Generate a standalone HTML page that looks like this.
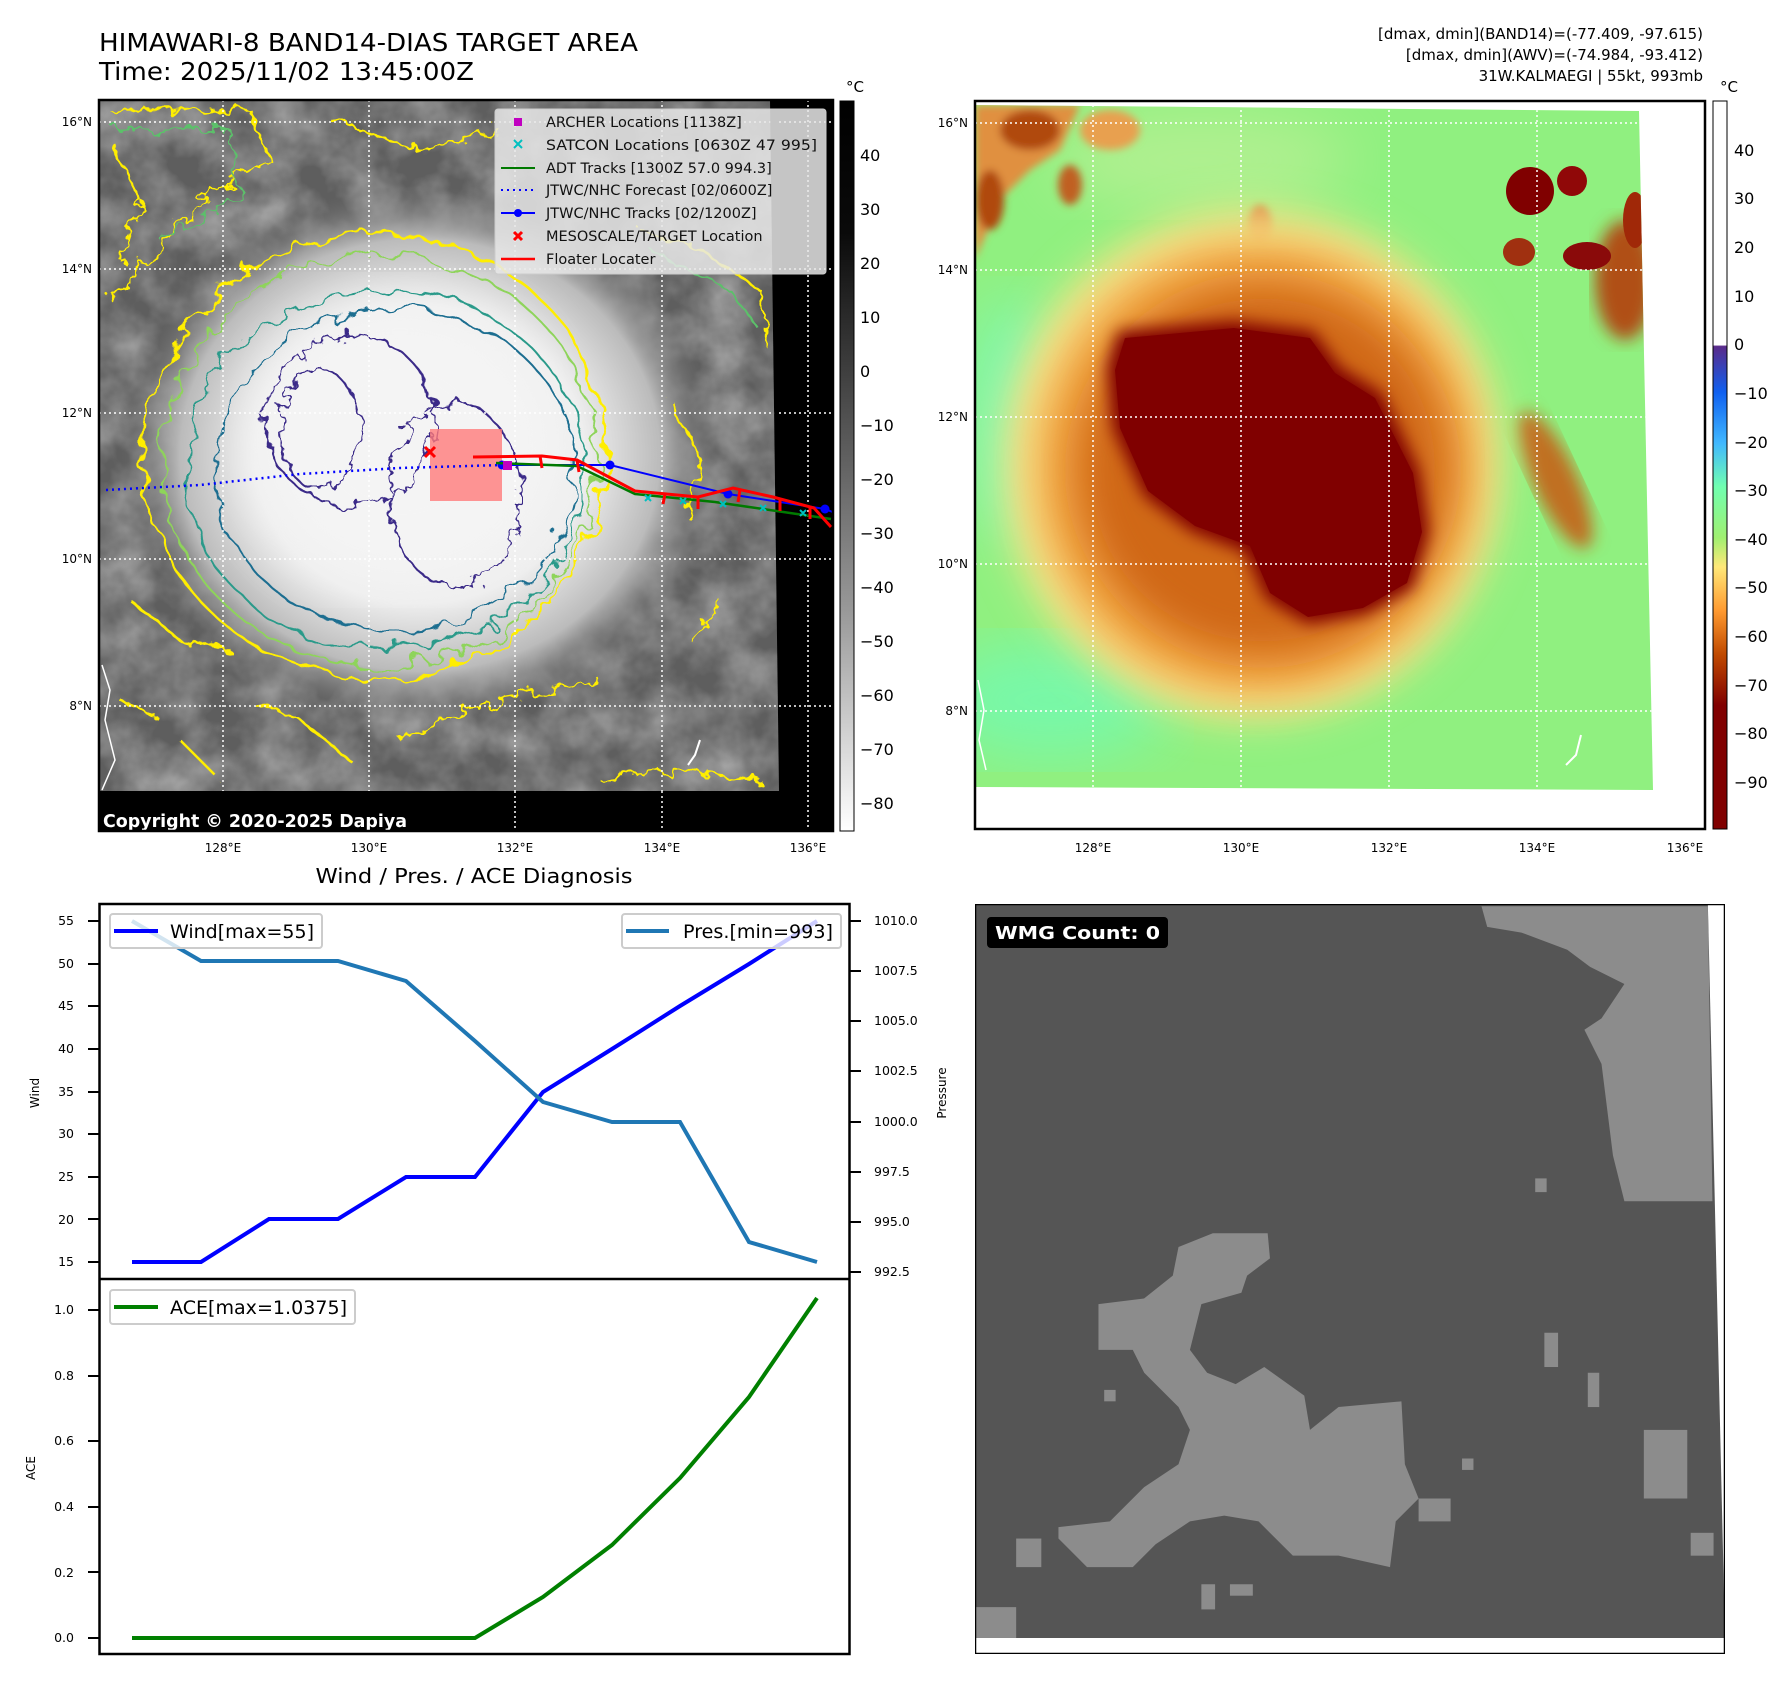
<!DOCTYPE html>
<html><head><meta charset="utf-8"><style>
html,body{margin:0;padding:0;background:#fff;}
svg{display:block;}
text{font-family:"DejaVu Sans","Liberation Sans",sans-serif;}
</style></head><body>
<svg width="1792" height="1690" viewBox="0 0 1792 1690" xmlns="http://www.w3.org/2000/svg">
<defs>
<clipPath id="cL"><rect x="99" y="100" width="734" height="731"/></clipPath>
<clipPath id="cLimg"><polygon points="99,100 770,100 779,791 99,791"/></clipPath>
<clipPath id="cR"><polygon points="975,105 1639,111 1653,790 975,787"/></clipPath>
<filter id="wob" x="-10%" y="-10%" width="120%" height="120%"><feTurbulence type="fractalNoise" baseFrequency="0.035" numOctaves="3" seed="3"/><feDisplacementMap in="SourceGraphic" scale="28"/></filter>
<filter id="wob2" x="-10%" y="-10%" width="120%" height="120%"><feTurbulence type="fractalNoise" baseFrequency="0.06" numOctaves="3" seed="7"/><feDisplacementMap in="SourceGraphic" scale="22"/></filter>
<filter id="tex" x="0" y="0" width="100%" height="100%"><feTurbulence type="fractalNoise" baseFrequency="0.02" numOctaves="4" seed="5"/><feColorMatrix type="matrix" values="0 0 0 0 0.5  0 0 0 0 0.5  0 0 0 0 0.5  1.2 0 0 0 -0.35"/></filter>
<filter id="bl4"><feGaussianBlur stdDeviation="4"/></filter>
<filter id="bl8"><feGaussianBlur stdDeviation="8"/></filter>
<filter id="bl20"><feGaussianBlur stdDeviation="20"/></filter>
<filter id="bl30"><feGaussianBlur stdDeviation="30"/></filter>
<radialGradient id="blob" cx="0.5" cy="0.5" r="0.5">
<stop offset="0" stop-color="#fafafa"/><stop offset="0.55" stop-color="#eeeeee"/><stop offset="0.8" stop-color="#bbbbbb"/><stop offset="1" stop-color="#6a6a6a" stop-opacity="0"/></radialGradient>
<linearGradient id="cbL" x1="0" y1="0" x2="0" y2="1">
<stop offset="0" stop-color="#000"/><stop offset="0.18" stop-color="#0a0a0a"/><stop offset="0.45" stop-color="#555"/><stop offset="0.7" stop-color="#999"/><stop offset="1" stop-color="#fff"/></linearGradient>
<linearGradient id="cbR" x1="0" y1="0" x2="0" y2="1">
<stop offset="0" stop-color="#fff"/><stop offset="0.335" stop-color="#fff"/><stop offset="0.337" stop-color="#5a2a8a"/><stop offset="0.40" stop-color="#1060f0"/><stop offset="0.47" stop-color="#40b8ff"/><stop offset="0.53" stop-color="#70ffb0"/><stop offset="0.60" stop-color="#a0f070"/><stop offset="0.64" stop-color="#ffe878"/><stop offset="0.70" stop-color="#ff9a30"/><stop offset="0.76" stop-color="#c04a00"/><stop offset="0.83" stop-color="#800000"/><stop offset="1" stop-color="#800000"/></linearGradient>
</defs>

<!-- Titles -->
<text x="99" y="51" font-size="25" textLength="539" lengthAdjust="spacingAndGlyphs">HIMAWARI-8 BAND14-DIAS TARGET AREA</text>
<text x="99" y="80" font-size="25" textLength="375" lengthAdjust="spacingAndGlyphs">Time: 2025/11/02 13:45:00Z</text>
<g font-size="15" text-anchor="end">
<text x="1703" y="39">[dmax, dmin](BAND14)=(-77.409, -97.615)</text>
<text x="1703" y="60">[dmax, dmin](AWV)=(-74.984, -93.412)</text>
<text x="1703" y="81">31W.KALMAEGI | 55kt, 993mb</text>
</g>

<!-- LEFT MAP -->
<rect x="99" y="100" width="734" height="731" fill="#000"/>
<g clip-path="url(#cLimg)">
<rect x="99" y="100" width="700" height="700" fill="#5e5e5e"/>
<rect x="99" y="100" width="700" height="700" filter="url(#tex)"/>
<ellipse cx="420" cy="455" rx="300" ry="270" fill="url(#blob)"/>
<ellipse cx="400" cy="440" rx="150" ry="140" fill="#f4f4f4" filter="url(#bl30)"/>
<g fill="none" filter="url(#wob)">
<ellipse cx="375" cy="455" rx="232" ry="222" stroke="#ffee00" stroke-width="2.5"/>
<ellipse cx="380" cy="460" rx="218" ry="205" stroke="#8ed45a" stroke-width="2"/>
<ellipse cx="385" cy="470" rx="200" ry="180" stroke="#2a9a8a" stroke-width="2"/>
<ellipse cx="395" cy="470" rx="180" ry="162" stroke="#1e6e90" stroke-width="2"/>
</g>
<g fill="none" filter="url(#wob2)" stroke="#3a2a88" stroke-width="2">
<ellipse cx="350" cy="420" rx="85" ry="85"/>
<ellipse cx="455" cy="495" rx="65" ry="92"/>
<ellipse cx="320" cy="430" rx="40" ry="60"/>
</g>
<g fill="none" stroke="#ffee00" stroke-width="2.5" filter="url(#wob2)">
<path d="M110,110 L250,110 L270,160 L200,200 L150,260 L110,300"/>
<path d="M330,120 L420,150 L500,130"/>
<path d="M640,230 L700,250 L760,290 L770,350"/>
<path d="M670,400 L700,460 L690,520"/>
<path d="M400,740 L500,700 L560,690 L600,680"/>
<path d="M600,780 L680,770 L760,780"/>
<path d="M130,600 L180,640 L230,650"/>
<path d="M250,700 L300,720 L350,760"/>
<path d="M120,700 L160,720"/>
<path d="M110,140 L140,200 L120,260"/>
<path d="M180,740 L220,780"/>
<path d="M690,640 L720,600"/>
</g>
<g fill="none" stroke="#5cc06a" stroke-width="2" filter="url(#wob2)">
<path d="M115,130 L230,130 L240,200 L160,240"/>
<path d="M650,250 L730,290 L760,330"/>
</g>
<g stroke="#fff" stroke-width="1.5" stroke-dasharray="2,3">
<line x1="99" y1="122" x2="833" y2="122"/><line x1="99" y1="269" x2="833" y2="269"/><line x1="99" y1="413" x2="833" y2="413"/><line x1="99" y1="559" x2="833" y2="559"/><line x1="99" y1="706" x2="833" y2="706"/>
<line x1="223" y1="100" x2="223" y2="831"/><line x1="369" y1="100" x2="369" y2="831"/><line x1="515" y1="100" x2="515" y2="831"/><line x1="662" y1="100" x2="662" y2="831"/>
</g>
<path d="M102,665 L110,690 L105,720 L115,760 L102,790" stroke="#fff" stroke-width="1.5" fill="none"/>
<path d="M700,740 L695,755 L688,765" stroke="#fff" stroke-width="2" fill="none"/>
</g>
<g clip-path="url(#cL)">
<g stroke="#fff" stroke-width="1.5" stroke-dasharray="2,3"><line x1="808" y1="100" x2="808" y2="831"/><line x1="779" y1="122" x2="833" y2="122"/><line x1="779" y1="269" x2="833" y2="269"/><line x1="779" y1="413" x2="833" y2="413"/><line x1="779" y1="559" x2="833" y2="559"/><line x1="779" y1="706" x2="833" y2="706"/><line x1="515" y1="791" x2="515" y2="831"/><line x1="662" y1="791" x2="662" y2="831"/></g>
<rect x="430" y="429" width="72" height="72" fill="#ff7a7a" opacity="0.8"/>
<polyline points="106,490 200,485 300,474 400,468 502,465" fill="none" stroke="#0000ff" stroke-width="2.5" stroke-dasharray="2,4"/>
<polyline points="502,465 610,465 728,494 825,509 840,515" fill="none" stroke="#0000ff" stroke-width="2"/>
<g fill="#0000ff"><circle cx="502" cy="465" r="4.5"/><circle cx="610" cy="465" r="4.5"/><circle cx="728" cy="494" r="4.5"/><circle cx="825" cy="509" r="4.5"/></g>
<polyline points="496,463 577,466 635,494 715,502 831,519" fill="none" stroke="#007a00" stroke-width="2.5"/>
<g stroke="#00c0c0" stroke-width="2"><path d="M645,495l6,6m0,-6l-6,6M680,498l6,6m0,-6l-6,6M720,501l6,6m0,-6l-6,6M760,505l6,6m0,-6l-6,6M800,510l6,6m0,-6l-6,6"/></g>
<polyline points="473,457 542,456 577,460 635,491 698,497 733,488 773,497 814,508 831,527" fill="none" stroke="#ff0000" stroke-width="3"/>
<g stroke="#ff0000" stroke-width="3"><path d="M540,456l2,12M577,460l2,12M665,494l-2,10M698,497l0,12M740,490l-2,12M780,499l0,12M810,507l0,12"/></g>
<path d="M425,447l10,10m0,-10l-10,10" stroke="#ff0000" stroke-width="3"/>
<rect x="503" y="461" width="9" height="9" fill="#c000c0"/>
<rect x="495" y="109" width="331" height="165" rx="3" fill="#e8e8e8" fill-opacity="0.85" stroke="#ccc"/>
<rect x="514" y="118" width="8" height="8" fill="#c000c0"/>
<path d="M514,140l8,8m0,-8l-8,8" stroke="#00c0c0" stroke-width="2"/>
<line x1="501" y1="168" x2="535" y2="168" stroke="#007a00" stroke-width="2"/>
<line x1="501" y1="190" x2="535" y2="190" stroke="#0000ff" stroke-width="2" stroke-dasharray="2,4"/>
<line x1="501" y1="213" x2="535" y2="213" stroke="#0000ff" stroke-width="2"/><circle cx="518" cy="213" r="4" fill="#0000ff"/>
<path d="M514,232l8,8m0,-8l-8,8" stroke="#ff0000" stroke-width="3"/>
<line x1="501" y1="259" x2="535" y2="259" stroke="#ff0000" stroke-width="2.5"/>
<g font-size="14.5" fill="#111">
<text x="546" y="127">ARCHER Locations [1138Z]</text>
<text x="546" y="150" textLength="271" lengthAdjust="spacingAndGlyphs">SATCON Locations [0630Z 47 995]</text>
<text x="546" y="173">ADT Tracks [1300Z 57.0 994.3]</text>
<text x="546" y="195">JTWC/NHC Forecast [02/0600Z]</text>
<text x="546" y="218">JTWC/NHC Tracks [02/1200Z]</text>
<text x="546" y="241">MESOSCALE/TARGET Location</text>
<text x="546" y="264">Floater Locater</text>
</g>
<text x="103" y="827" font-size="17.5" font-weight="bold" fill="#fff" textLength="304" lengthAdjust="spacingAndGlyphs">Copyright © 2020-2025 Dapiya</text>
</g>
<rect x="99" y="100" width="734" height="731" fill="none" stroke="#000" stroke-width="2.5"/>
<g font-size="12" text-anchor="end">
<text x="92" y="126">16°N</text><text x="92" y="273">14°N</text><text x="92" y="417">12°N</text><text x="92" y="563">10°N</text><text x="92" y="710">8°N</text>
</g>
<g font-size="12" text-anchor="middle">
<text x="223" y="852">128°E</text><text x="369" y="852">130°E</text><text x="515" y="852">132°E</text><text x="662" y="852">134°E</text><text x="808" y="852">136°E</text>
</g>
<rect x="840" y="101" width="14" height="730" fill="url(#cbL)" stroke="#000" stroke-width="1"/>
<text x="846" y="92" font-size="15">°C</text>
<g font-size="16">
<text x="860" y="161">40</text><text x="860" y="215">30</text><text x="860" y="269">20</text><text x="860" y="323">10</text><text x="860" y="377">0</text><text x="860" y="431">−10</text><text x="860" y="485">−20</text><text x="860" y="539">−30</text><text x="860" y="593">−40</text><text x="860" y="647">−50</text><text x="860" y="701">−60</text><text x="860" y="755">−70</text><text x="860" y="809">−80</text>
</g>

<!-- RIGHT MAP -->
<rect x="975" y="101" width="730" height="728" fill="#fff"/>
<g clip-path="url(#cR)">
<rect x="975" y="100" width="700" height="710" fill="#90f080"/>
<ellipse cx="1050" cy="700" rx="120" ry="60" fill="#78f8a8" filter="url(#bl30)"/>
<ellipse cx="1015" cy="420" rx="50" ry="120" fill="#80f8b0" filter="url(#bl30)"/>
<ellipse cx="1200" cy="160" rx="150" ry="50" fill="#b0f090" filter="url(#bl30)"/>
<g filter="url(#bl4)">
<path d="M975,105 L1080,105 L1060,150 L1030,170 L1000,200 L975,260 Z" fill="#e09040"/>
<ellipse cx="1030" cy="130" rx="30" ry="20" fill="#b04a10"/>
<ellipse cx="990" cy="200" rx="14" ry="30" fill="#b04a10"/>
<ellipse cx="1110" cy="130" rx="30" ry="20" fill="#e8a050"/>
<ellipse cx="1070" cy="185" rx="12" ry="20" fill="#c06020"/>
<ellipse cx="1260" cy="225" rx="12" ry="20" fill="#d07030"/>
</g>
<ellipse cx="1555" cy="480" rx="22" ry="75" fill="#c07020" filter="url(#bl8)" transform="rotate(-25 1555 480)"/>
<ellipse cx="1625" cy="280" rx="30" ry="60" fill="#b05018" filter="url(#bl8)"/>
<ellipse cx="1252" cy="465" rx="250" ry="255" fill="#f8e48a" filter="url(#bl20)"/>
<ellipse cx="1257" cy="468" rx="220" ry="225" fill="#f0a040" filter="url(#bl20)"/>
<ellipse cx="1263" cy="470" rx="185" ry="185" fill="#d06818" filter="url(#bl20)"/>
<g transform="translate(-5,-2)">
<polygon points="1123,333 1239,323 1318,333 1345,369 1387,395 1424,472 1434,534 1418,590 1371,616 1313,626 1271,601 1250,554 1197,534 1149,498 1118,431 1112,369" fill="#800000" filter="url(#bl8)"/>
<polygon points="1130,340 1239,330 1315,340 1340,375 1380,400 1418,475 1427,534 1412,585 1368,610 1313,619 1275,595 1255,548 1200,528 1153,493 1125,430 1120,372" fill="#800000"/>
</g>
<circle cx="1530" cy="191" r="24" fill="#800000"/><circle cx="1572" cy="181" r="15" fill="#900808"/>
<ellipse cx="1587" cy="256" rx="24" ry="14" fill="#8a0a0a"/><ellipse cx="1519" cy="252" rx="16" ry="14" fill="#a03010"/>
<ellipse cx="1635" cy="220" rx="12" ry="28" fill="#a02808"/>
<g stroke="#fff" stroke-width="1.5" stroke-dasharray="2,3">
<line x1="975" y1="123" x2="1705" y2="123"/><line x1="975" y1="270" x2="1705" y2="270"/><line x1="975" y1="417" x2="1705" y2="417"/><line x1="975" y1="564" x2="1705" y2="564"/><line x1="975" y1="711" x2="1705" y2="711"/>
<line x1="1093" y1="100" x2="1093" y2="835"/><line x1="1241" y1="100" x2="1241" y2="835"/><line x1="1389" y1="100" x2="1389" y2="835"/><line x1="1537" y1="100" x2="1537" y2="835"/>
</g>
<path d="M978,680 L984,710 L979,740 L986,770" stroke="#fff" stroke-width="1.5" fill="none"/>
<path d="M1581,735 L1576,755 L1566,765" stroke="#fff" stroke-width="2" fill="none"/>
</g>
<rect x="975" y="101" width="730" height="728" fill="none" stroke="#000" stroke-width="2.5"/>
<g font-size="12" text-anchor="end">
<text x="968" y="127">16°N</text><text x="968" y="274">14°N</text><text x="968" y="421">12°N</text><text x="968" y="568">10°N</text><text x="968" y="715">8°N</text>
</g>
<g font-size="12" text-anchor="middle">
<text x="1093" y="852">128°E</text><text x="1241" y="852">130°E</text><text x="1389" y="852">132°E</text><text x="1537" y="852">134°E</text><text x="1685" y="852">136°E</text>
</g>
<rect x="1713" y="101" width="14" height="728" fill="url(#cbR)" stroke="#000" stroke-width="1"/>
<text x="1720" y="92" font-size="15">°C</text>
<g font-size="16">
<text x="1734" y="156">40</text><text x="1734" y="204">30</text><text x="1734" y="253">20</text><text x="1734" y="302">10</text><text x="1734" y="350">0</text><text x="1734" y="399">−10</text><text x="1734" y="448">−20</text><text x="1734" y="496">−30</text><text x="1734" y="545">−40</text><text x="1734" y="593">−50</text><text x="1734" y="642">−60</text><text x="1734" y="691">−70</text><text x="1734" y="739">−80</text><text x="1734" y="788">−90</text>
</g>

<!-- BOTTOM LEFT -->
<text x="474" y="883" font-size="20" text-anchor="middle" font-family="Liberation Sans, sans-serif" textLength="317" lengthAdjust="spacingAndGlyphs">Wind / Pres. / ACE Diagnosis</text>
<rect x="99.5" y="904" width="750" height="750" fill="#fff" stroke="#000" stroke-width="2.5"/>
<line x1="99.5" y1="1279" x2="849.5" y2="1279" stroke="#000" stroke-width="2.5"/>
<g font-size="12.5" text-anchor="end" font-family="Liberation Sans, sans-serif">
<text x="74" y="925">55</text><text x="74" y="968">50</text><text x="74" y="1010">45</text><text x="74" y="1053">40</text><text x="74" y="1096">35</text><text x="74" y="1138">30</text><text x="74" y="1181">25</text><text x="74" y="1224">20</text><text x="74" y="1266">15</text>
<text x="74" y="1314">1.0</text><text x="74" y="1380">0.8</text><text x="74" y="1445">0.6</text><text x="74" y="1511">0.4</text><text x="74" y="1577">0.2</text><text x="74" y="1642">0.0</text>
</g>
<g stroke="#000" stroke-width="2">
<path d="M88,921h11M88,964h11M88,1006h11M88,1049h11M88,1092h11M88,1134h11M88,1177h11M88,1219h11M88,1262h11"/>
<path d="M88,1310h11M88,1376h11M88,1441h11M88,1507h11M88,1572h11M88,1638h11"/>
<path d="M850,921h11M850,971h11M850,1021h11M850,1071h11M850,1122h11M850,1172h11M850,1222h11M850,1272h11"/>
</g>
<g font-size="12.5" font-family="Liberation Sans, sans-serif">
<text x="874" y="925">1010.0</text><text x="874" y="975">1007.5</text><text x="874" y="1025">1005.0</text><text x="874" y="1075">1002.5</text><text x="874" y="1126">1000.0</text><text x="874" y="1176">997.5</text><text x="874" y="1226">995.0</text><text x="874" y="1276">992.5</text>
</g>
<text transform="translate(39,1093) rotate(-90)" font-size="12" text-anchor="middle" font-family="Liberation Sans, sans-serif">Wind</text>
<text transform="translate(35,1468) rotate(-90)" font-size="12" text-anchor="middle" font-family="Liberation Sans, sans-serif">ACE</text>
<text transform="translate(946,1093) rotate(-90)" font-size="12" text-anchor="middle" font-family="Liberation Sans, sans-serif">Pressure</text>
<polyline points="132,1262 201,1262 269,1219 338,1219 406,1177 475,1177 543,1092 612,1049 680,1006 749,964 817,921" fill="none" stroke="#0000ff" stroke-width="4"/>
<polyline points="132,921 201,961 269,961 338,961 406,981 475,1041 543,1102 612,1122 680,1122 749,1242 817,1262" fill="none" stroke="#1f77b4" stroke-width="4"/>
<polyline points="132,1638 201,1638 269,1638 338,1638 406,1638 475,1638 543,1597 612,1545 680,1478 749,1397 817,1298" fill="none" stroke="#008000" stroke-width="4"/>
<rect x="110" y="914" width="212" height="34" rx="3" fill="#fff" fill-opacity="0.8" stroke="#ccc" stroke-width="2"/>
<line x1="114" y1="931" x2="158" y2="931" stroke="#0000ff" stroke-width="4"/>
<text x="170" y="938" font-size="19" font-family="Liberation Sans, sans-serif" textLength="144" lengthAdjust="spacingAndGlyphs">Wind[max=55]</text>
<rect x="622" y="914" width="219" height="34" rx="3" fill="#fff" fill-opacity="0.8" stroke="#ccc" stroke-width="2"/>
<line x1="626" y1="931" x2="669" y2="931" stroke="#1f77b4" stroke-width="4"/>
<text x="683" y="938" font-size="19" font-family="Liberation Sans, sans-serif" textLength="150" lengthAdjust="spacingAndGlyphs">Pres.[min=993]</text>
<rect x="110" y="1290" width="245" height="34" rx="3" fill="#fff" fill-opacity="0.8" stroke="#ccc" stroke-width="2"/>
<line x1="114" y1="1307" x2="158" y2="1307" stroke="#008000" stroke-width="4"/>
<text x="170" y="1314" font-size="19" font-family="Liberation Sans, sans-serif" textLength="177" lengthAdjust="spacingAndGlyphs">ACE[max=1.0375]</text>

<!-- BOTTOM RIGHT -->
<svg x="975" y="904" width="750" height="750" viewBox="852 790 656 656" preserveAspectRatio="none">
<rect x="852" y="790" width="656" height="656" fill="#fff"/>
<polygon points="852,790 1493,790 1508,1432 852,1432" fill="#555"/>
<g fill="#8c8c8c">
<polygon points="1295,792 1493,792 1497,1050 1420,1050 1410,1010 1400,930 1385,900 1400,890 1420,860 1390,845 1370,830 1330,815 1300,810"/>
<polygon points="1060,1078 1108,1078 1110,1100 1090,1115 1085,1130 1050,1140 1040,1180 1055,1200 1080,1210 1105,1195 1140,1220 1145,1250 1170,1230 1225,1225 1228,1280 1240,1310 1220,1330 1215,1370 1170,1360 1130,1360 1100,1330 1070,1325 1040,1330 1010,1350 990,1370 950,1370 925,1345 925,1335 970,1330 1000,1300 1030,1280 1040,1250 1030,1230 1000,1200 990,1180 960,1180 960,1140 1000,1135 1025,1115 1030,1090"/>
<rect x="1437" y="1250" width="38" height="60"/>
<rect x="852" y="1405" width="36" height="27"/>
<rect x="1342" y="1030" width="10" height="12"/><rect x="1350" y="1165" width="12" height="30"/>
<rect x="1240" y="1310" width="28" height="20"/><rect x="888" y="1345" width="22" height="25"/>
<rect x="1478" y="1340" width="20" height="20"/><rect x="1050" y="1385" width="12" height="22"/>
<rect x="1075" y="1385" width="20" height="10"/><rect x="1278" y="1275" width="10" height="10"/>
<rect x="1388" y="1200" width="10" height="30"/><rect x="965" y="1215" width="10" height="10"/>
</g>
<polygon points="852,790 1508,790 1508,1446 852,1446" fill="none" stroke="#000" stroke-width="2.2"/>
</svg>
<rect x="987" y="917" width="181" height="31" rx="4" fill="#000"/>
<text x="995" y="939" font-size="18" font-weight="bold" fill="#fff" textLength="165" lengthAdjust="spacingAndGlyphs">WMG Count: 0</text>
</svg>
</body></html>
